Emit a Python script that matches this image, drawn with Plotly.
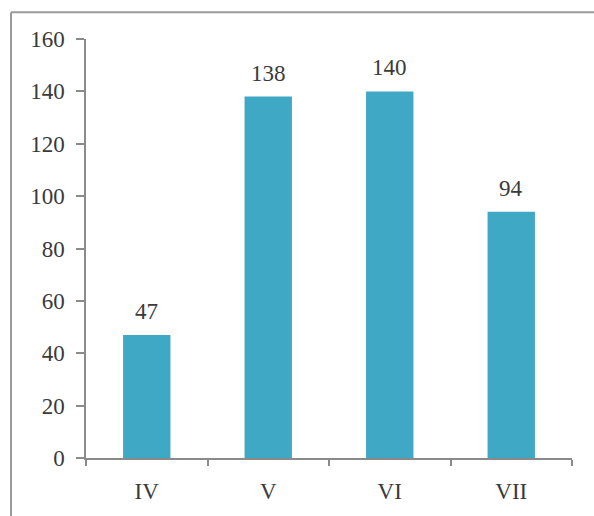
import plotly.graph_objects as go

# Monthly counts, April to July
months = ["IV", "V", "VI", "VII"]
counts = [47, 138, 140, 94]
y_ticks = [0, 20, 40, 60, 80, 100, 120, 140, 160]

BAR_COLOR = "#3FA8C4"
TEXT_COLOR = "#3a3a3a"
AXIS_COLOR = "#8a8a8a"
FONT = "Liberation Serif, Times New Roman, serif"

W, H = 594, 516
ML, MR, MT, MB = 86, 22, 39, 56
plot_w = W - ML - MR
plot_h = H - MT - MB

fig = go.Figure(
    go.Bar(
        x=months,
        y=counts,
        marker=dict(color=BAR_COLOR, line=dict(width=0)),
        hoverinfo="x+y",
    )
)

# Value labels above each bar
for m, v in zip(months, counts):
    fig.add_annotation(
        x=m, y=v, text=str(v), showarrow=False,
        yanchor="bottom", yshift=9,
        font=dict(family=FONT, size=23, color=TEXT_COLOR),
    )

# Frame lines along the top and left of the figure
left_px, top_px = 11, 12
fx = (left_px - ML) / plot_w
fy = 1 + (MT - top_px) / plot_h
fig.add_shape(type="line", xref="paper", yref="paper",
              x0=fx, x1=1 + (MR + 5) / plot_w, y0=fy, y1=fy,
              line=dict(color="#9a9a9a", width=2))
fig.add_shape(type="line", xref="paper", yref="paper",
              x0=fx, x1=fx, y0=fy, y1=-(MB + 5) / plot_h,
              line=dict(color="#9a9a9a", width=2))

fig.update_layout(
    width=W, height=H,
    margin=dict(l=ML, r=MR, t=MT, b=MB),
    paper_bgcolor="white", plot_bgcolor="white",
    bargap=0.61,
    showlegend=False,
    font=dict(family=FONT, size=23, color=TEXT_COLOR),
)
fig.update_xaxes(
    type="category",
    showline=True, linecolor=AXIS_COLOR, linewidth=1.5,
    ticks="outside", tickson="boundaries", ticklen=6,
    tickcolor=AXIS_COLOR, tickwidth=1.5,
    showgrid=False, zeroline=False,
    tickfont=dict(family=FONT, size=23, color=TEXT_COLOR),
    ticklabelstandoff=12,
)
fig.update_yaxes(
    range=[0, 160], tickvals=y_ticks,
    showline=True, linecolor=AXIS_COLOR, linewidth=1.5,
    ticks="outside", ticklen=8, tickcolor=AXIS_COLOR, tickwidth=1.5,
    showgrid=False, zeroline=False,
    tickfont=dict(family=FONT, size=23, color=TEXT_COLOR),
    ticklabelstandoff=7,
)

fig.write_html("out.html")
